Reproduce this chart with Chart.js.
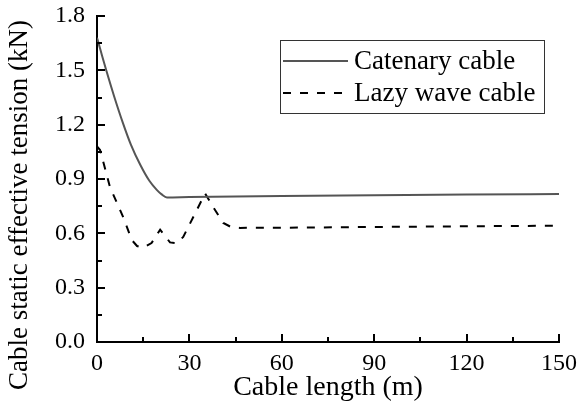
<!DOCTYPE html>
<html>
<head>
<meta charset="utf-8">
<script src="https://cdn.jsdelivr.net/npm/chart.js@4.4.0/dist/chart.umd.min.js"></script>
<style>
  html, body { margin: 0; padding: 0; background: #fff; }
  #wrap { width: 581px; height: 406px; }
</style>
</head>
<body>
<div id="wrap"><canvas id="chart" width="581" height="406"></canvas></div>
<script>
// Values
const catenaryX = [0, 1, 3, 5.5, 8.4, 11, 14, 17, 19.4, 21, 22.7, 30, 60, 90, 120, 150];
const catenaryY = [1.68, 1.62, 1.50, 1.36, 1.21, 1.09, 0.98, 0.89, 0.84, 0.815, 0.798, 0.80, 0.806, 0.81, 0.814, 0.817];

const lazyX = [0, 1, 4.2, 8.5, 11.3, 13, 15, 17.7, 20.5, 23.7, 25.9, 28, 35.1, 37.7, 41, 43.5, 46.4, 60, 90, 120, 150];
const lazyY = [1.08, 1.06, 0.856, 0.69, 0.563, 0.53, 0.52, 0.546, 0.62, 0.55, 0.546, 0.58, 0.82, 0.745, 0.657, 0.635, 0.63, 0.631, 0.635, 0.639, 0.642];

const xTicks = [0, 30, 60, 90, 120, 150];
const yTicks = [0.0, 0.3, 0.6, 0.9, 1.2, 1.5, 1.8];
const seriesNames = ['Catenary cable', 'Lazy wave cable'];
const yTitle = 'Cable static effective tension (kN)';

const FONT = 'Liberation Serif';

function toPoints(xs, ys) {
    return xs.map((x, i) => ({ x: x, y: ys[i] }));
}

// inward major and minor tick marks on the left and bottom axes
const innerTicks = {
    id: 'innerTicks',
    afterDraw(chart) {
        const ctx = chart.ctx;
        const xs = chart.scales.x, ys = chart.scales.y;
        const area = chart.chartArea;
        ctx.save();
        ctx.strokeStyle = '#000';
        ctx.lineWidth = 2;
        for (let v = 0; v <= 150; v += 15) {
            const px = Math.round(xs.getPixelForValue(v));
            const len = (v % 30 === 0) ? 8 : 5;
            ctx.beginPath();
            ctx.moveTo(px, area.bottom);
            ctx.lineTo(px, area.bottom - len);
            ctx.stroke();
        }
        for (let i = 0; i <= 12; i++) {
            const v = i * 0.15;
            const py = Math.round(ys.getPixelForValue(v));
            const len = (i % 2 === 0) ? 8 : 5;
            ctx.beginPath();
            ctx.moveTo(area.left, py);
            ctx.lineTo(area.left + len, py);
            ctx.stroke();
        }
        ctx.restore();
    }
};

// y axis title, centred on the figure height like the original
const sideTitle = {
    id: 'sideTitle',
    afterDraw(chart) {
        const ctx = chart.ctx;
        ctx.save();
        ctx.translate(20, 205);
        ctx.rotate(-Math.PI / 2);
        ctx.fillStyle = '#000';
        ctx.font = '27px "' + FONT + '"';
        ctx.textAlign = 'center';
        ctx.textBaseline = 'middle';
        ctx.fillText(yTitle, 0, 0);
        ctx.restore();
    }
};

// boxed legend inside the plot, top right
const boxLegend = {
    id: 'boxLegend',
    afterDraw(chart) {
        const ctx = chart.ctx;
        const x0 = 280, y0 = 40, w = 264, h = 73;
        ctx.save();
        ctx.strokeStyle = '#333';
        ctx.lineWidth = 1;
        ctx.strokeRect(x0 + 0.5, y0 + 0.5, w, h);
        chart.data.datasets.forEach((ds, i) => {
            const cy = y0 + 21 + i * 32;
            ctx.strokeStyle = ds.borderColor;
            ctx.lineWidth = ds.borderWidth;
            ctx.setLineDash(ds.borderDash || []);
            ctx.beginPath();
            ctx.moveTo(x0 + 3, cy);
            ctx.lineTo(x0 + 68, cy);
            ctx.stroke();
            ctx.setLineDash([]);
            ctx.fillStyle = '#000';
            ctx.font = '27px "' + FONT + '"';
            ctx.textBaseline = 'middle';
            ctx.fillText(ds.label, x0 + 74, cy + 1);
        });
        ctx.restore();
    }
};

const ctx = document.getElementById('chart').getContext('2d');
new Chart(ctx, {
    type: 'line',
    data: {
        datasets: [{
            label: seriesNames[0],
            data: toPoints(catenaryX, catenaryY),
            borderColor: '#555555',
            borderWidth: 2,
            pointRadius: 0,
            cubicInterpolationMode: 'monotone',
            fill: false,
        }, {
            label: seriesNames[1],
            data: toPoints(lazyX, lazyY),
            borderColor: '#000000',
            borderWidth: 2,
            borderDash: [8, 9],
            pointRadius: 0,
            tension: 0,
            fill: false,
        }],
    },
    options: {
        responsive: false,
        animation: false,
        layout: { padding: { top: 16, right: 22, left: 0, bottom: 0 } },
        plugins: {
            legend: { display: false },
            tooltip: { enabled: false },
        },
        scales: {
            x: {
                type: 'linear',
                min: 0,
                max: 150,
                afterBuildTicks: (s) => { s.ticks = xTicks.map(v => ({ value: v })); },
                afterFit: (s) => { s.height = 64; s.paddingLeft = 0; s.paddingRight = 0; },
                grid: { display: false, drawTicks: false },
                border: { display: true, color: '#000', width: 2 },
                ticks: {
                    color: '#000',
                    padding: 7,
                    maxRotation: 0,
                    font: { family: FONT, size: 24 },
                },
                title: {
                    display: true,
                    text: 'Cable length (m)',
                    color: '#000',
                    padding: { top: 0, bottom: 2 },
                    font: { family: FONT, size: 28 },
                },
            },
            y: {
                type: 'linear',
                min: 0,
                max: 1.8,
                afterBuildTicks: (s) => { s.ticks = yTicks.map(v => ({ value: v })); },
                afterFit: (s) => { s.width = 97; s.paddingTop = 0; s.paddingBottom = 0; },
                grid: { display: false, drawTicks: false },
                border: { display: true, color: '#000', width: 2 },
                ticks: {
                    color: '#000',
                    padding: 12,
                    font: { family: FONT, size: 24 },
                    callback: (v) => v.toFixed(1),
                },
                title: { display: false },
            },
        },
    },
    plugins: [innerTicks, sideTitle, boxLegend],
});
</script>
</body>
</html>
